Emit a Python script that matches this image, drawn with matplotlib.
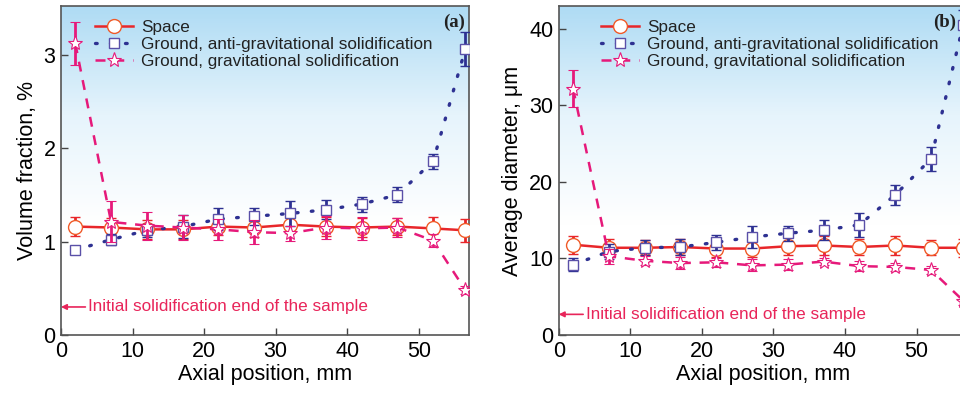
import numpy as np
import matplotlib
matplotlib.use("Agg")
import matplotlib.pyplot as plt
from matplotlib.colors import LinearSegmentedColormap
from matplotlib.lines import Line2D

plt.rcParams['font.family'] = ['Liberation Sans', 'DejaVu Sans']

# Data
pos = [2, 7, 12, 17, 22, 27, 32, 37, 42, 47, 52, 56.5]

# (a) volume fraction, %
vf_space = [1.16, 1.15, 1.13, 1.13, 1.16, 1.15, 1.18, 1.16, 1.15, 1.16, 1.14, 1.12]
vf_space_err = [0.10, 0.10, 0.10, 0.10, 0.09, 0.10, 0.09, 0.10, 0.10, 0.09, 0.12, 0.12]
vf_anti = [0.91, 1.02, 1.12, 1.16, 1.24, 1.27, 1.30, 1.34, 1.40, 1.50, 1.86, 3.06]
vf_anti_err = [0.0, 0.06, 0.07, 0.12, 0.12, 0.09, 0.13, 0.10, 0.08, 0.08, 0.08, 0.18]
vf_grav = [3.12, 1.21, 1.17, 1.15, 1.13, 1.10, 1.09, 1.15, 1.14, 1.15, 1.01, 0.48]
vf_grav_err = [0.23, 0.22, 0.15, 0.13, 0.11, 0.13, 0.08, 0.12, 0.12, 0.10, 0.07, 0.04]

# (b) average diameter, um
d_space = [11.8, 11.4, 11.4, 11.5, 11.3, 11.3, 11.6, 11.7, 11.5, 11.7, 11.4, 11.4]
d_space_err = [1.2, 1.1, 1.0, 1.0, 1.1, 1.1, 1.2, 1.2, 1.0, 1.2, 1.0, 1.2]
d_anti = [9.2, 10.9, 11.4, 11.5, 12.1, 12.8, 13.3, 13.7, 14.4, 18.3, 23.0, 40.5]
d_anti_err = [0.8, 1.0, 1.0, 1.0, 1.0, 1.4, 1.0, 1.3, 1.6, 1.3, 1.6, 2.0]
d_grav = [32.2, 10.3, 9.7, 9.4, 9.5, 9.1, 9.2, 9.6, 9.0, 8.9, 8.5, 4.5]
d_grav_err = [2.4, 1.0, 0.6, 0.8, 0.6, 0.8, 0.7, 0.5, 0.7, 0.5, 0.5, 0.6]

labels = ["Space", "Ground, anti-gravitational solidification",
          "Ground, gravitational solidification"]

RED = "#e8262a"
BLUE = "#2e3192"
BLUE_MK = "#5a50a8"
PINK = "#e6197a"
TXT = "#e8255a"

bg = LinearSegmentedColormap.from_list("bg", ["#ffffff", "#ffffff", "#e6f4fc", "#aedbf4"])

# line styles for each series
sty_space = dict(color=RED, lw=1.8, marker="o", ms=10, mfc="white", mec="#f05a28", mew=1.0)
sty_anti = dict(color=BLUE, lw=2.4, ls=(0, (0.5, 4)), marker="s", ms=7.5, mfc="white",
                mec=BLUE_MK, mew=1.0, dash_capstyle="round")
sty_grav = dict(color=PINK, lw=1.8, ls=(0, (4, 3.5)), marker="*", ms=11, mfc="white",
                mec=PINK, mew=0.8)


def panel(ax, space, space_err, anti, anti_err, grav, grav_err, ylim, yticks,
          ylabel, tag, tag_x, leg_x, arrow_y):
    ax.imshow(np.linspace(0, 1, 256).reshape(-1, 1), cmap=bg, aspect="auto",
              extent=[0, 1, 0, 1], origin="lower", transform=ax.transAxes, zorder=0)

    ax.errorbar(pos, space, yerr=space_err, ecolor=RED, elinewidth=2,
                capsize=3.6, capthick=2.2, zorder=3, **sty_space)
    ax.errorbar(pos, anti, yerr=anti_err, ecolor=BLUE, elinewidth=2,
                capsize=3.6, capthick=2.6, zorder=4, **sty_anti)
    ax.errorbar(pos, grav, yerr=grav_err, ecolor=PINK, elinewidth=2,
                capsize=3.6, capthick=2.2, zorder=5, **sty_grav)

    ax.set_xlim(0, 57)
    ax.set_ylim(*ylim)
    ax.set_xticks([0, 10, 20, 30, 40, 50])
    ax.set_yticks(yticks)
    ax.tick_params(direction="in", labelsize=15.5, length=5, width=1, color="#444444",
                   pad=4)
    ax.set_xlabel("Axial position, mm", fontsize=15.5, labelpad=2)
    ax.set_ylabel(ylabel, fontsize=15.5, labelpad=4)
    for s in ax.spines.values():
        s.set_color("#555555")
        s.set_linewidth(1.2)

    handles = [Line2D([], [], **sty_space), Line2D([], [], **sty_anti),
               Line2D([], [], **sty_grav)]
    leg = ax.legend(handles, labels, loc="upper left", bbox_to_anchor=(leg_x, 0.995),
                    frameon=False, fontsize=12.3, handlelength=2.2, handletextpad=0.5,
                    labelspacing=0.12, borderaxespad=0.3)
    for t in leg.get_texts():
        t.set_color("#222222")

    ax.text(tag_x, 0.975, tag, transform=ax.transAxes, ha="right", va="top",
            fontsize=13.5, fontweight="bold", family="Liberation Serif", color="#222222")

    ax.annotate("Initial solidification end of the sample", xy=(0, arrow_y),
                xytext=(3.8, arrow_y), color=TXT, fontsize=12.3, va="center",
                arrowprops=dict(arrowstyle="-|>", color=TXT, lw=1.2,
                                mutation_scale=8, shrinkA=0, shrinkB=0))


fig = plt.figure(figsize=(9.6, 3.96), dpi=100)
ax1 = fig.add_axes([0.0635, 0.154, 0.425, 0.831])
ax2 = fig.add_axes([0.582, 0.154, 0.425, 0.831])

panel(ax1, vf_space, vf_space_err, vf_anti, vf_anti_err, vf_grav, vf_grav_err,
      (0, 3.52), [0, 1, 2, 3], "Volume fraction, %", "(a)", 0.99, 0.055, 0.3)
panel(ax2, d_space, d_space_err, d_anti, d_anti_err, d_grav, d_grav_err,
      (0, 43), [0, 10, 20, 30, 40], "Average diameter, \u03bcm", "(b)", 0.975, 0.075, 2.7)

fig.savefig("out.png", dpi=100)
